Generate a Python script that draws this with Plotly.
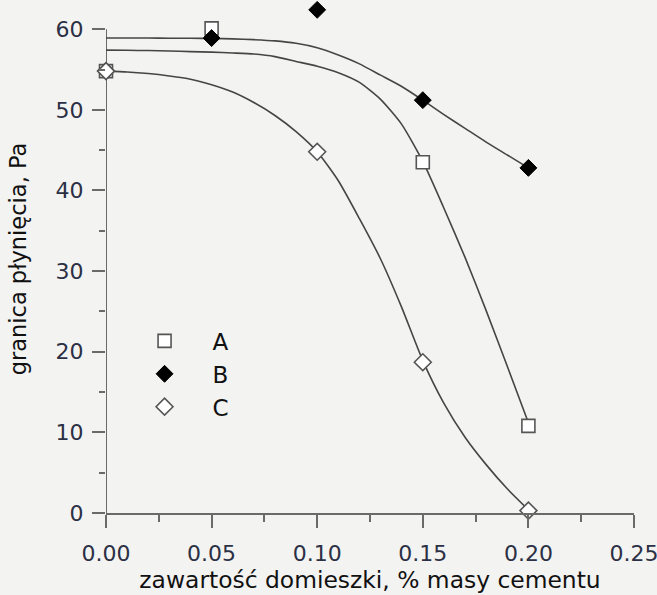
import plotly.graph_objects as go

# Measured points
A_x = [0.0, 0.05, 0.15, 0.20]
A_y = [54.8, 60.1, 43.5, 10.8]
B_x = [0.0, 0.05, 0.10, 0.15, 0.20]
B_y = [54.8, 58.9, 62.4, 51.2, 42.8]
C_x = [0.0, 0.10, 0.15, 0.20]
C_y = [54.8, 44.8, 18.7, 0.3]

# Fitted curves, every 0.01
fit_x = [0.00, 0.01, 0.02, 0.03, 0.04, 0.05, 0.06, 0.07, 0.08, 0.09, 0.10,
         0.11, 0.12, 0.13, 0.14, 0.15, 0.16, 0.17, 0.18, 0.19, 0.20]
fitA_y = [57.4, 57.38, 57.35, 57.3, 57.22, 57.15, 57.05, 56.92, 56.6, 56.0, 55.4,
          54.6, 53.4, 51.3, 48.2, 43.6, 37.8, 31.7, 25.1, 18.2, 11.2]
fitB_y = [58.9, 58.9, 58.9, 58.88, 58.87, 58.85, 58.8, 58.7, 58.55, 58.25, 57.7,
          56.8, 55.7, 54.3, 52.9, 51.2, 49.4, 47.7, 46.0, 44.4, 42.8]
fitC_y = [54.8, 54.7, 54.5, 54.2, 53.8, 53.1, 52.2, 50.9, 49.3, 47.3, 44.8,
          41.2, 36.5, 31.5, 25.5, 18.9, 13.6, 9.4, 6.0, 3.0, 0.4]

x_ticks = [0.0, 0.05, 0.10, 0.15, 0.20, 0.25]
y_ticks = [0, 10, 20, 30, 40, 50, 60]

series_names = ["A", "B", "C"]

bg = "#f3f3f1"
line_col = "#454545"
axis_col = "#6a6a6a"

fig = go.Figure()
for fy in [fitA_y, fitB_y, fitC_y]:
    fig.add_trace(go.Scatter(x=fit_x, y=fy, mode="lines", showlegend=False,
                             line=dict(color=line_col, width=1.6, shape="spline", smoothing=0.6),
                             hoverinfo="skip", cliponaxis=False))

fig.add_trace(go.Scatter(x=A_x, y=A_y, mode="markers", name=series_names[0], cliponaxis=False,
                         marker=dict(symbol="square", size=13, color="#ffffff",
                                     line=dict(color="#555555", width=1.6))))
fig.add_trace(go.Scatter(x=B_x, y=B_y, mode="markers", name=series_names[1], cliponaxis=False,
                         marker=dict(symbol="diamond", size=13, color="#000000",
                                     line=dict(color="#000000", width=1))))
fig.add_trace(go.Scatter(x=C_x, y=C_y, mode="markers", name=series_names[2], cliponaxis=False,
                         marker=dict(symbol="diamond", size=13, color="#ffffff",
                                     line=dict(color="#555555", width=1.6))))

tickfont = dict(family="DejaVu Sans", size=22, color="#2b3045")

fig.update_layout(
    width=657, height=595,
    margin=dict(l=106, r=23, t=5, b=82),
    paper_bgcolor=bg, plot_bgcolor=bg,
    showlegend=True,
    legend=dict(x=0.02, y=0.381, xanchor="left", yanchor="top",
                bgcolor="rgba(0,0,0,0)", borderwidth=0, itemwidth=86,
                font=dict(family="DejaVu Sans", size=23, color="#111111")),
    xaxis=dict(range=[0, 0.25], tickvals=x_ticks, tickformat=".2f", automargin=False,
               showgrid=False, zeroline=False, showline=True, linecolor=axis_col, linewidth=2,
               ticks="outside", ticklen=13, tickwidth=2, tickcolor=axis_col,
               ticklabelstandoff=7, ticklabeloverflow="allow",
               minor=dict(dtick=0.025, ticks="outside", ticklen=7, tickwidth=2, tickcolor=axis_col, showgrid=False),
               tickfont=tickfont,
               title=dict(text="zawartość domieszki, % masy cementu",
                          font=dict(family="DejaVu Sans", size=23.4, color="#111111"), standoff=5)),
    yaxis=dict(range=[0, 63], tickvals=y_ticks, automargin=False,
               showgrid=False, zeroline=False, showline=False,
               ticks="outside", ticklen=13, tickwidth=2, tickcolor=axis_col,
               ticklabelstandoff=4,
               minor=dict(dtick=5, ticks="outside", ticklen=6, tickwidth=2, tickcolor=axis_col, showgrid=False),
               tickfont=tickfont,
               title=dict(text="granica płynięcia, Pa",
                          font=dict(family="DejaVu Sans", size=22.5, color="#111111"), standoff=22)),
    shapes=[dict(type="line", xref="x", yref="y", layer="below",
                 x0=x_ticks[0], x1=x_ticks[0], y0=y_ticks[0], y1=y_ticks[-1],
                 line=dict(color=axis_col, width=2))],
)

fig.write_html("out.html")
